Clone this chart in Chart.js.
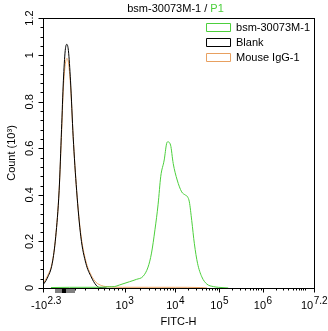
<!DOCTYPE html>
<html><head><meta charset="utf-8">
<script src="https://cdn.jsdelivr.net/npm/chart.js@4.4.1/dist/chart.umd.min.js"></script>
<style>html,body{margin:0;padding:0;background:#fff;}#wrap{width:328px;height:331px;}</style>
</head><body><div id="wrap"><canvas id="c" width="328" height="331"></canvas></div>
<script>
// ---- Data (x = FITC-H display channel 0..1024, y = count in thousands) ----
const sampleName = 'bsm-30073M-1';
const gateName = 'P1';
const seriesNames = ['bsm-30073M-1', 'Blank', 'Mouse IgG-1'];
const seriesColors = ['#4ccf3c', '#000000', '#e8a060'];

const bsmX = [30, 100, 200, 250, 270, 289, 327, 353, 378, 397, 410, 423, 435, 445, 458, 467, 471, 482, 492, 507, 524, 537, 546, 553, 562, 572, 584, 600, 619, 644, 663, 700];
const bsmY = [0.002, 0.003, 0.003, 0.005, 0.006, 0.013, 0.027, 0.037, 0.05, 0.09, 0.15, 0.25, 0.36, 0.48, 0.55, 0.62, 0.628, 0.614, 0.535, 0.464, 0.413, 0.40, 0.392, 0.37, 0.29, 0.19, 0.106, 0.048, 0.017, 0.006, 0.003, 0.0];

const blankX = [0, 16, 35, 48, 61, 70, 77, 84, 90, 96, 104, 114, 127, 143, 162, 182, 200, 213, 240];
const blankY = [0.013, 0.042, 0.106, 0.22, 0.42, 0.68, 0.89, 1.02, 1.047, 1.02, 0.89, 0.65, 0.42, 0.22, 0.106, 0.048, 0.013, 0.002, 0];

const igX = [0, 16, 35, 48, 61, 70, 77, 84, 90, 96, 104, 114, 127, 143, 162, 182, 200, 222, 250, 300, 400, 500, 594, 620];
const igY = [0.018, 0.05, 0.11, 0.22, 0.42, 0.66, 0.86, 0.96, 0.986, 0.97, 0.87, 0.65, 0.42, 0.23, 0.115, 0.055, 0.025, 0.01, 0.005, 0.003, 0.003, 0.003, 0.002, 0];

// x axis ticks (channel positions of the decade labels)
const xTickChannels = [0, 308, 499, 666, 830, 1024];
const xTickBases = ['-10', '10', '10', '10', '10', '10'];
const xTickExps = ['2.3', '3', '4', '5', '6', '7.2'];
const xLowMinorChannels = [46, 122, 160, 206, 232, 251, 270, 282, 297];
const xChannelMax = 1024;
const xZeroBand = [46, 122];
const xZeroMark = [72, 88];

// y axis ticks
const yTicks = [0, 0.2, 0.4, 0.6, 0.8, 1.0, 1.16];
const yTickLabels = ['0', '0.2', '0.4', '0.6', '0.8', '1', '1.2'];
const yMax = 1.16;
const yMinorStep = 0.04;

const FONT = "'Liberation Sans', Arial, sans-serif";

function pts(xs, ys) { return xs.map((x, i) => ({ x: x, y: ys[i] })); }

const decor = {
  id: 'decor',
  afterLayout(chart) {
    const lg = chart.legend, ca = chart.chartArea;
    if (lg) {
      const w = lg.width, h = lg.height;
      lg.left = ca.right - w + 6;
      lg.right = lg.left + w;
      lg.top = ca.top;
      lg.bottom = lg.top + h;
    }
  },
  afterDraw(chart) {
    const ctx = chart.ctx, ca = chart.chartArea;
    const xs = chart.scales.x, ys = chart.scales.y;
    ctx.save();
    ctx.strokeStyle = '#000';
    ctx.lineWidth = 1;
    // frame
    ctx.strokeRect(Math.round(ca.left) + 0.5, Math.round(ca.top) + 0.5, Math.round(ca.right - ca.left), Math.round(ca.bottom - ca.top));
    const L = Math.round(ca.left) + 0.5, B = Math.round(ca.bottom) + 0.5;
    // y ticks
    ctx.beginPath();
    for (let v = 0; v <= yMax + 1e-6; v += yMinorStep) {
      const y = Math.round(ys.getPixelForValue(v)) + 0.5;
      ctx.moveTo(L, y); ctx.lineTo(L - 3, y);
    }
    yTicks.forEach(v => {
      const y = Math.round(ys.getPixelForValue(v)) + 0.5;
      ctx.moveTo(L, y); ctx.lineTo(L - 5, y);
    });
    // x ticks
    const minor = xLowMinorChannels.slice();
    const decadeCh = xTickChannels.slice(1);
    const tenPow7 = decadeCh[3] + (decadeCh[4] - decadeCh[3]) / 1.2;
    const decs = [decadeCh[0], decadeCh[1], decadeCh[2], decadeCh[3], tenPow7];
    for (let d = 0; d < decs.length - 1; d++) {
      for (let k = 2; k <= 9; k++) minor.push(decs[d] + (decs[d + 1] - decs[d]) * Math.log10(k));
    }
    minor.push(tenPow7);
    minor.forEach(c => {
      const x = Math.round(xs.getPixelForValue(c)) + 0.5;
      ctx.moveTo(x, B); ctx.lineTo(x, B + 2);
    });
    xTickChannels.forEach(c => {
      const x = Math.round(xs.getPixelForValue(c)) + 0.5;
      ctx.moveTo(x, B); ctx.lineTo(x, B + 4);
    });
    ctx.stroke();
    // zero band marker
    ctx.fillStyle = '#808080';
    const zb0 = xs.getPixelForValue(xZeroBand[0]), zb1 = xs.getPixelForValue(xZeroBand[1]);
    ctx.fillRect(Math.round(zb0), Math.round(ca.bottom) + 1, Math.round(zb1 - zb0), 4);
    ctx.fillStyle = '#000';
    const zm0 = xs.getPixelForValue(xZeroMark[0]), zm1 = xs.getPixelForValue(xZeroMark[1]);
    ctx.fillRect(Math.round(zm0), Math.round(ca.bottom) + 1, Math.round(zm1 - zm0), 4);
    // x tick labels with superscript exponents
    ctx.fillStyle = '#000';
    ctx.textBaseline = 'alphabetic';
    ctx.textAlign = 'left';
    xTickChannels.forEach((c, i) => {
      const x = xs.getPixelForValue(c);
      ctx.font = '11px ' + FONT;
      const wb = ctx.measureText(xTickBases[i]).width;
      ctx.font = '10px ' + FONT;
      const we = ctx.measureText(xTickExps[i]).width;
      const x0 = x - (wb + we) / 2 + (i === 0 ? 3 : 0);
      ctx.font = '11px ' + FONT;
      ctx.fillText(xTickBases[i], x0, B + 20);
      ctx.font = '10px ' + FONT;
      ctx.fillText(xTickExps[i], x0 + wb + 0.5, B + 15);
    });
    // title with coloured gate name
    ctx.font = '11px ' + FONT;
    const t1 = sampleName + ' / ', t2 = gateName;
    const w1 = ctx.measureText(t1).width, w2 = ctx.measureText(t2).width;
    const cx = (ca.left + ca.right) / 2 - 3;
    const tx = cx - (w1 + w2) / 2;
    ctx.fillStyle = '#000';
    ctx.fillText(t1, tx, 12);
    ctx.fillStyle = seriesColors[0];
    ctx.fillText(t2, tx + w1, 12);
    ctx.restore();
  }
};

const ds = (label, data, color) => ({
  label: label, data: data, borderColor: color, backgroundColor: '#ffffff',
  borderWidth: 1, pointRadius: 0, fill: false, cubicInterpolationMode: 'monotone'
});

new Chart(document.getElementById('c'), {
  type: 'line',
  data: {
    datasets: [
      ds(seriesNames[0], pts(bsmX, bsmY), seriesColors[0]),
      ds(seriesNames[1], pts(blankX, blankY), seriesColors[1]),
      ds(seriesNames[2], pts(igX, igY), seriesColors[2])
    ]
  },
  options: {
    responsive: false,
    devicePixelRatio: 1,
    animation: false,
    layout: { padding: { top: 18, right: 14, left: 0, bottom: 0 } },
    plugins: {
      title: { display: false },
      tooltip: { enabled: false },
      legend: {
        position: 'chartArea', align: 'start',
        labels: { boxWidth: 24, boxHeight: 8, padding: 4, color: '#000', font: { size: 11, family: FONT } }
      }
    },
    scales: {
      x: {
        type: 'linear', min: 0, max: xChannelMax,
        grid: { display: false }, border: { display: false },
        ticks: { display: false },
        afterBuildTicks: s => { s.ticks = xTickChannels.map(v => ({ value: v })); },
        afterFit: s => { s.height = 43; },
        title: { display: true, text: 'FITC-H', color: '#000', font: { size: 11, family: FONT }, padding: { top: 0, bottom: 2 } }
      },
      y: {
        type: 'linear', min: 0, max: yMax,
        grid: { display: false }, border: { display: false },
        afterBuildTicks: s => { s.ticks = yTicks.map(v => ({ value: v })); },
        afterFit: s => { s.width = 43; },
        ticks: {
          minRotation: 90, maxRotation: 90, crossAlign: 'center', padding: -3,
          color: '#000', font: { size: 11, family: FONT },
          callback: (v, i) => yTickLabels[i]
        },
        title: { display: true, text: 'Count (10³)', color: '#000', font: { size: 11, family: FONT }, padding: { top: 5, bottom: 0 } }
      }
    }
  },
  plugins: [decor]
});
</script></body></html>
